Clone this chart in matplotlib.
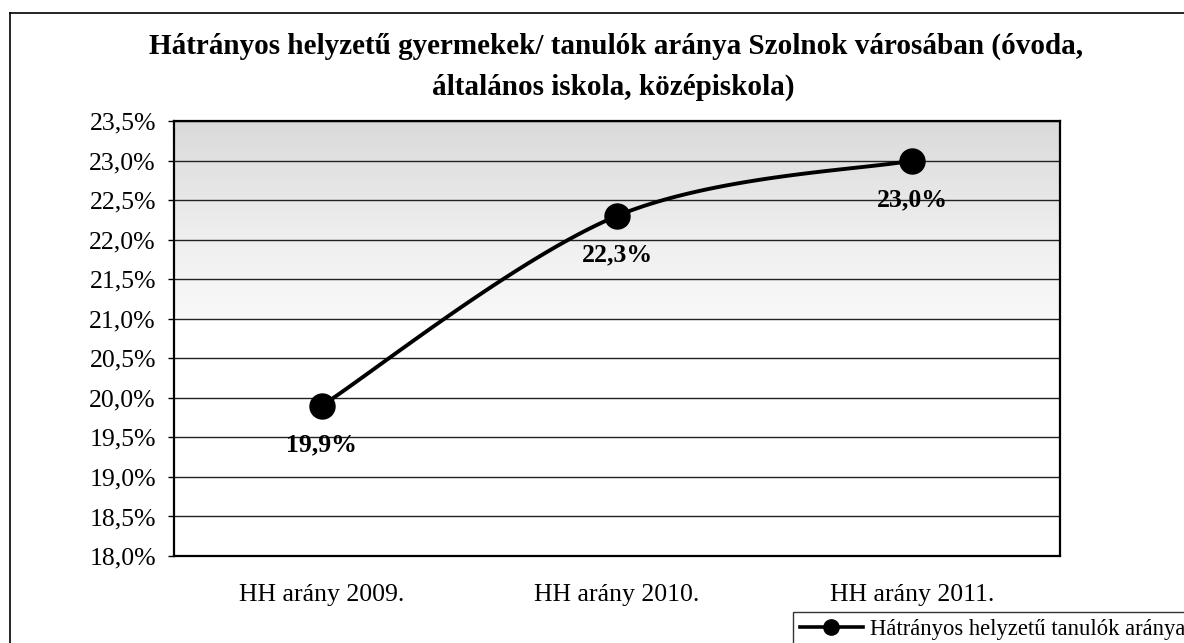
import numpy as np
import matplotlib
matplotlib.use("Agg")
import matplotlib.pyplot as plt
from matplotlib.lines import Line2D

categories = ["HH arány 2009.", "HH arány 2010.", "HH arány 2011."]
values = [19.9, 22.3, 23.0]
value_labels = ["19,9%", "22,3%", "23,0%"]
series_name = "Hátrányos helyzetű tanulók aránya"
title_line1 = "Hátrányos helyzetű gyermekek/ tanulók aránya Szolnok városában (óvoda,"
title_line2 = "általános iskola, középiskola)"
yticks = [18.0, 18.5, 19.0, 19.5, 20.0, 20.5, 21.0, 21.5, 22.0, 22.5, 23.0, 23.5]

plt.rcParams['font.family'] = ['Liberation Serif', 'DejaVu Serif']

W, H = 1184, 643
fig = plt.figure(figsize=(W / 100, H / 100), dpi=100)
fig.patch.set_facecolor('white')

L, R, T, B = 174, 1060, 121, 556
ax = fig.add_axes([L / W, 1 - B / H, (R - L) / W, (B - T) / H])

x = np.arange(len(categories))
ax.set_xlim(-0.5, len(categories) - 0.5)
ax.set_ylim(18.0, 23.5)

# stippled-gray upper region approximated with a light vertical gradient
grad = np.linspace(0.0, 1.0, 100).reshape(-1, 1)
ax.imshow(grad, extent=(-0.5, len(categories) - 0.5, 21.0, 23.5), origin='lower',
          cmap='Greys', vmin=-0.3, vmax=5.0, aspect='auto', zorder=0, interpolation='bilinear')

for yv in yticks:
    ax.axhline(yv, color='#222222', lw=1.0, zorder=1)

# Excel-style smoothed line (uniform Catmull-Rom / Bezier)
P = np.column_stack([x, values]).astype(float)
pts = np.vstack([P[0], P, P[-1]])
curve = []
t = np.linspace(0, 1, 60)
for i in range(1, len(pts) - 2):
    p0, p1, p2, p3 = pts[i - 1], pts[i], pts[i + 1], pts[i + 2]
    c1 = p1 + (p2 - p0) / 6
    c2 = p2 - (p3 - p1) / 6
    seg = ((1 - t) ** 3)[:, None] * p1 + (3 * (1 - t) ** 2 * t)[:, None] * c1 + \
          (3 * (1 - t) * t ** 2)[:, None] * c2 + (t ** 3)[:, None] * p2
    curve.append(seg)
curve = np.vstack(curve)
ax.plot(curve[:, 0], curve[:, 1], color='black', lw=2.8, zorder=3, solid_capstyle='round')
ax.plot(x, values, linestyle='none', marker='o', markersize=18, color='black', zorder=4)

for xi, v, lab in zip(x, values, value_labels):
    ax.annotate(lab, (xi, v), xytext=(0, -28), textcoords='offset points',
                ha='center', va='center', fontsize=18.5, fontweight='bold', zorder=5)

ax.set_xticks(x)
ax.set_xticklabels(categories, fontsize=18.5)
ax.set_yticks(yticks)
ax.set_yticklabels([f"{v:.1f}%".replace('.', ',') for v in yticks], fontsize=18.5)
ax.tick_params(axis='x', length=0, pad=20)
ax.tick_params(axis='y', length=4, width=1, pad=9, direction='out')
for s in ax.spines.values():
    s.set_color('black')
    s.set_linewidth(1.6)

fig.text(616 / W, 1 - 46 / H, title_line1, ha='center', va='center',
         fontsize=21, fontweight='bold')
fig.text(613 / W, 1 - 87 / H, title_line2, ha='center', va='center',
         fontsize=21, fontweight='bold')

# outer frame lines (partially visible in the scan)
fig.add_artist(Line2D([10 / W, 10 / W], [0, 1 - 13 / H], transform=fig.transFigure,
                      color='black', lw=1.2))
fig.add_artist(Line2D([10 / W, 1], [1 - 13 / H, 1 - 13 / H], transform=fig.transFigure,
                      color='black', lw=1.2))

handle = Line2D([], [], color='black', lw=2.6, marker='o', markersize=11)
leg = fig.legend([handle], [series_name], loc='upper left',
                 bbox_to_anchor=(793 / W, 1 - 612 / H), bbox_transform=fig.transFigure,
                 fontsize=16.3, frameon=True, fancybox=False, handlelength=2.8,
                 handletextpad=0.3, borderpad=0.3, borderaxespad=0)
leg.get_frame().set_edgecolor('black')
leg.get_frame().set_linewidth(1.0)

fig.savefig("out.png", dpi=100)
